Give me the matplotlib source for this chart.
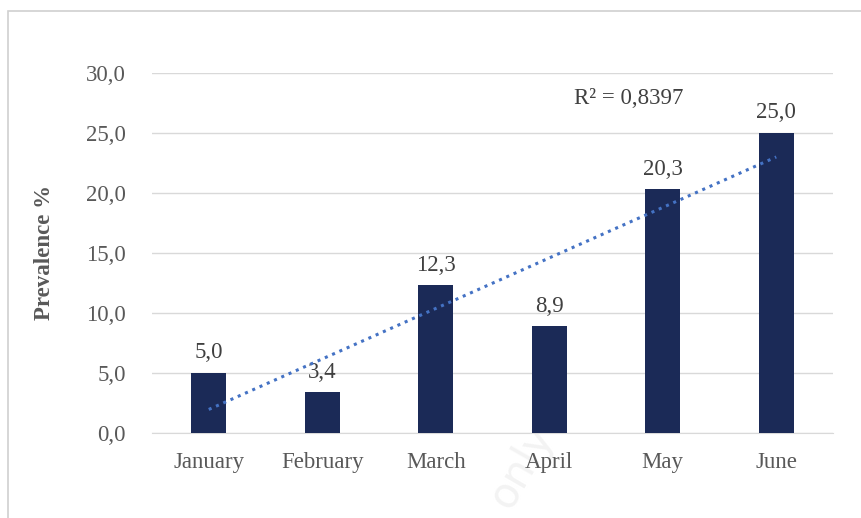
import matplotlib
matplotlib.use("Agg")
import matplotlib.pyplot as plt
import numpy as np
from matplotlib.patches import Rectangle

months = ["January", "February", "March", "April", "May", "June"]
prevalence = [5.0, 3.4, 12.3, 8.9, 20.3, 25.0]
yticks = [0, 5, 10, 15, 20, 25, 30]
r2_text = "R² = 0,8397"

plt.rcParams['font.family'] = ['Liberation Serif', 'DejaVu Serif']

W, H = 861, 518
fig = plt.figure(figsize=(W/100, H/100), dpi=100)
ax = fig.add_axes([152/W, 1-433/H, (833-152)/W, (433-73)/H])
ax.patch.set_alpha(0)

FS = 16.5
x = np.arange(1, len(months)+1)
ax.bar(x, prevalence, width=0.31, color="#1b2a57", zorder=3)
for xi, v in zip(x, prevalence):
    ax.text(xi, v + 0.8, f"{v:.1f}".replace(".", ","), ha="center", va="bottom",
            fontsize=FS, color="#404040")

coef = np.polyfit(x, prevalence, 1)
xt = np.array([x[0], x[-1]])
ax.plot(xt, np.polyval(coef, xt), linestyle=(0, (1, 1.6)), color="#4472c4",
        linewidth=2.2, zorder=4)
ax.text(4.22, 27.0, r2_text, fontsize=FS, color="#404040", ha="left", va="bottom")

ax.set_xlim(0.5, 6.5)
ax.set_ylim(0, 30)
ax.set_yticks(yticks)
ax.set_yticklabels([f"{t:.1f}".replace(".", ",") for t in yticks])
ax.set_xticks(x)
ax.set_xticklabels(months)
ax.tick_params(axis="both", length=0, labelsize=FS, labelcolor="#595959")
ax.tick_params(axis="x", pad=14)
ax.tick_params(axis="y", pad=19)
ax.grid(axis="y", color="#d9d9d9", linewidth=1, zorder=0)
for s in ["top", "right", "left"]:
    ax.spines[s].set_visible(False)
ax.spines["bottom"].set_color("#d9d9d9")
ax.set_ylabel("Prevalence %", fontsize=FS, fontweight="bold", color="#595959", labelpad=22)

fig.patches.append(Rectangle((8/W, -0.1), 1.1, 1 - 11/H + 0.1, transform=fig.transFigure,
                             fill=False, edgecolor="#d0d0d0", linewidth=1.2))
fig.text(522/W, 1-466/H, "only", rotation=60, fontsize=30, color="#f3f3f3",
         family="DejaVu Sans", ha="center", va="center", zorder=-1)

fig.savefig("out.png", dpi=100)
